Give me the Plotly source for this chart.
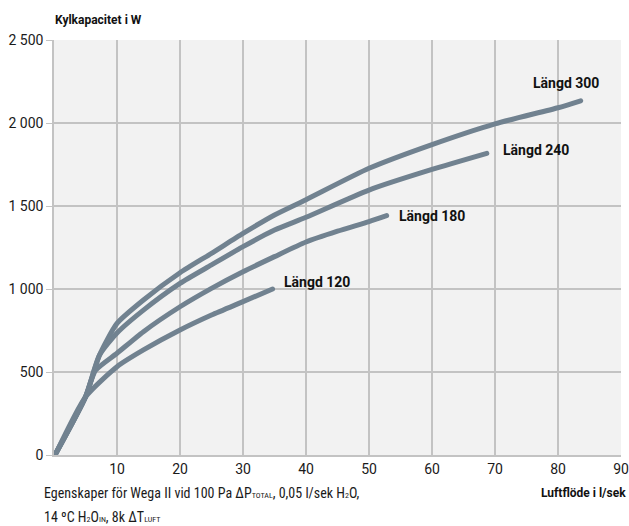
import plotly.graph_objects as go

# ---- data ----
x_120 = [0.3, 5, 10, 14.2, 20, 25, 30, 34.7]
y_120 = [10, 350, 532, 633, 753, 843, 924, 1000]

x_180 = [0.3, 5, 6.6, 10, 14.2, 20, 25, 30, 35, 40, 45, 50, 52.8]
y_180 = [10, 350, 510, 613, 743, 893, 1004, 1104, 1195, 1283, 1348, 1406, 1442]

x_240 = [0.3, 5, 7.2, 10, 14.2, 20, 25, 30, 35, 40, 50, 60, 68.7]
y_240 = [10, 350, 600, 735, 873, 1034, 1145, 1255, 1355, 1432, 1596, 1720, 1817]

x_300 = [0.3, 5, 7.2, 10, 14.2, 20, 25, 30, 35, 40, 50, 60, 70, 80, 83.6]
y_300 = [10, 350, 600, 793, 934, 1098, 1215, 1335, 1446, 1538, 1727, 1870, 1995, 2092, 2134]

series_names = ["Längd 120", "Längd 180", "Längd 240", "Längd 300"]

x_tickvals = [10, 20, 30, 40, 50, 60, 70, 80, 90]
x_ticktext = ["10", "20", "30", "40", "50", "60", "70", "80", "90"]
y_tickvals = [0, 500, 1000, 1500, 2000, 2500]
y_ticktext = ["0", "500", "1 000", "1 500", "2 000", "2 500"]

# ---- styling ----
LINE = "#718290"
GRID = "#c3c3c3"
BG = "#f2f2f2"
TICKFONT = dict(family="Roboto, sans-serif", size=14, color="#1a1a1a")
BOLD = dict(family="Roboto, sans-serif", size=12, color="#111111")
LABELFONT = dict(family="Roboto, sans-serif", size=14, color="#111111")
CAPFONT = dict(family="Liberation Sans Narrow, Roboto Condensed, Roboto, sans-serif", size=14, color="#1a1a1a")

fig = go.Figure()
all_series = [(x_120, y_120), (x_180, y_180), (x_240, y_240), (x_300, y_300)]
for (xs, ys), name in zip(all_series, series_names):
    fig.add_trace(go.Scatter(x=xs, y=ys, mode="lines", name=name,
                             line=dict(color=LINE, width=5, shape="spline", smoothing=0.6),
                             showlegend=False, hoverinfo="skip"))

# label offsets (pixels) relative to each series' end point
label_style = {
    "Längd 120": dict(xshift=9, yshift=7, xanchor="left"),
    "Längd 180": dict(xshift=10, yshift=0, xanchor="left"),
    "Längd 240": dict(xshift=14, yshift=3, xanchor="left"),
    "Längd 300": dict(xshift=-15, yshift=18, xanchor="center"),
}
for (xs, ys), name in zip(all_series, series_names):
    st = label_style[name]
    fig.add_annotation(x=xs[-1], y=ys[-1], xref="x", yref="y",
                       text="<b>%s</b>" % name, showarrow=False,
                       font=LABELFONT, yanchor="middle", **st)

# titles / captions
fig.add_annotation(xref="paper", yref="paper", x=-0.002, y=1.048,
                   text="<b>Kylkapacitet i W</b>", showarrow=False,
                   font=BOLD, xanchor="left", yanchor="middle")
fig.add_annotation(xref="paper", yref="paper", x=1.0125, y=-0.0916,
                   text="<b>Luftflöde i l/sek</b>", showarrow=False,
                   font=BOLD, xanchor="right", yanchor="middle")
small = "<span style='font-size:8px'>%s</span>"
fig.add_annotation(xref="paper", yref="paper", x=-0.0215, y=-0.0916,
                   text="Egenskaper för Wega II vid 100 Pa ΔP" + small % "TOTAL"
                        + ", 0,05 l/sek H" + small % "2" + "O,",
                   showarrow=False, font=CAPFONT, xanchor="left", yanchor="middle")
fig.add_annotation(xref="paper", yref="paper", x=-0.0215, y=-0.149,
                   text="14 ºC H" + small % "2" + "O" + small % "IN"
                        + ", 8k ΔT" + small % "LUFT",
                   showarrow=False, font=CAPFONT, xanchor="left", yanchor="middle")

fig.update_layout(
    width=629, height=526,
    margin=dict(l=54, r=8, t=40, b=71, autoexpand=False),
    paper_bgcolor="white", plot_bgcolor=BG,
    xaxis=dict(range=[0, 90], tickvals=x_tickvals, ticktext=x_ticktext,
               showgrid=True, gridcolor=GRID, gridwidth=1.5,
               showline=True, linecolor=GRID, linewidth=1.5, mirror=False,
               zeroline=False, ticks="", tickfont=TICKFONT, fixedrange=True,
               automargin=False),
    yaxis=dict(range=[0, 2500], tickvals=y_tickvals, ticktext=y_ticktext,
               showgrid=True, gridcolor=GRID, gridwidth=1.5,
               showline=True, linecolor=GRID, linewidth=1.5,
               zeroline=False, ticks="outside", ticklen=6, tickcolor=GRID,
               tickfont=TICKFONT, fixedrange=True, automargin=False),
)

fig.write_html(
    "out.html",
    config={"displayModeBar": False},
    post_script=(
        "document.body.style.margin='0px';document.body.style.overflow='hidden';"
        "document.querySelectorAll('.scatterlayer path.js-line').forEach("
        "function(p){p.style.strokeLinecap='round';p.style.strokeLinejoin='round';});"
    ),
)
